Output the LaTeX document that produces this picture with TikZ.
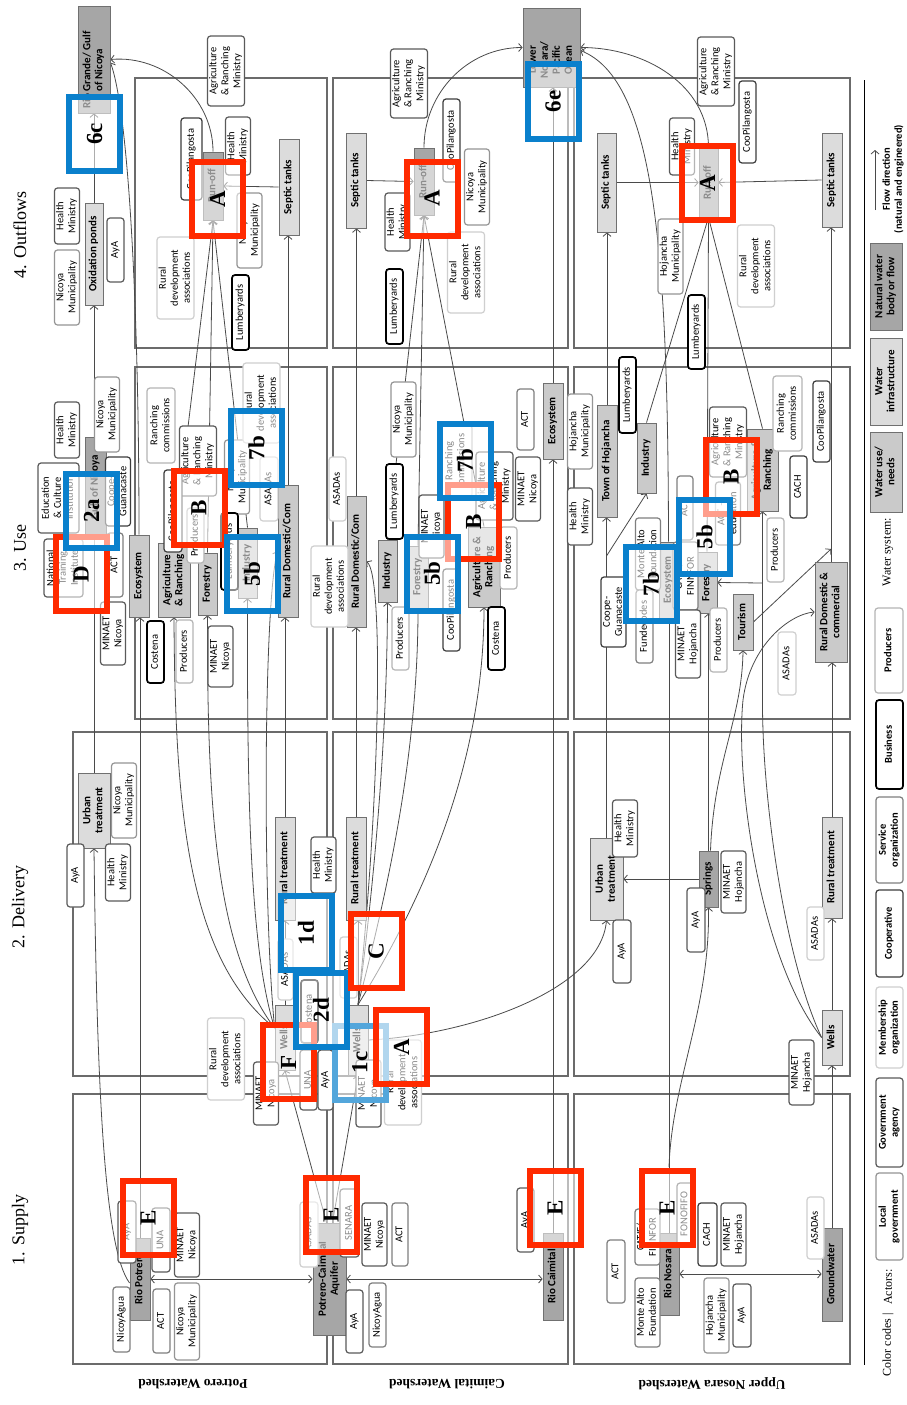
\documentclass[tikz,border=0pt]{standalone}
\usepackage{fontspec}
\setmainfont{Carlito}
\newfontfamily\tnr{Liberation Serif}
\usepackage{graphicx}
\usetikzlibrary{arrows.meta,calc}
\definecolor{natg}{HTML}{A6A6A6}
\definecolor{useg}{HTML}{CACACA}
\definecolor{infg}{HTML}{DCDCDC}
\definecolor{sysb}{HTML}{707070}
\definecolor{locc}{HTML}{959595}
\definecolor{govc}{HTML}{5A5A5A}
\definecolor{membc}{HTML}{CFCFCF}
\definecolor{coopc}{HTML}{3C3C3C}
\definecolor{servc}{HTML}{7F7F7F}
\definecolor{prodc}{HTML}{B5B5B5}
\definecolor{panc}{HTML}{6B6B6B}
\definecolor{flowc}{HTML}{4A4A4A}
\definecolor{hred}{HTML}{FF2A00}
\definecolor{hblue}{HTML}{0A80CC}
\newcommand\rt[1]{\rotatebox{90}{\begin{tabular}{@{}c@{}}#1\end{tabular}}}
\newcommand\lgf{\fontsize{10.5}{12}\selectfont\bfseries}
\pgfdeclarelayer{bg}
\pgfsetlayers{bg,main}
\tikzset{
 sz/.style args={#1/#2}{minimum width=#1pt,minimum height=#2pt},
 sys/.style={draw=sysb, line width=0.8pt, inner sep=0.5pt, font=\fontsize{11}{12}\selectfont\bfseries},
 nat/.style={sys, fill=natg},
 infra/.style={sys, fill=infg},
 wuse/.style={sys, fill=useg},
 systext/.style={inner sep=0pt, font=\fontsize{11}{12}\selectfont\bfseries},
 act/.style={rounded corners=3pt, fill=white, line width=1.2pt, inner sep=0.5pt, font=\fontsize{10.5}{12}\selectfont},
 loc/.style={act, draw=locc},
 gov/.style={act, draw=govc},
 memb/.style={act, draw=membc},
 coop/.style={act, draw=coopc},
 serv/.style={act, draw=servc},
 bus/.style={act, draw=black, line width=1.7pt},
 prod/.style={act, draw=prodc},
 panel/.style={draw=panc, line width=1.5pt},
 flow/.style={draw=flowc, line width=0.8pt, -{Straight Barb[length=3.5pt,width=8pt]}},
 flowboth/.style={draw=flowc, line width=0.8pt, {Straight Barb[length=3.5pt,width=8pt]}-{Straight Barb[length=3.5pt,width=8pt]}},
 hl/.style={line width=6pt, fill=white, fill opacity=0.55, draw opacity=1, text opacity=1, minimum width=51pt, minimum height=74pt, inner sep=0pt, font=\tnr\fontsize{23}{25}\selectfont\bfseries},
 hlr/.style={hl, draw=hred},
 hlb/.style={hl, draw=hblue},
 stage/.style={rotate=90, font=\tnr\fontsize{18}{20}\selectfont},
 wshed/.style={rotate=180, font=\tnr\fontsize{13.5}{15}\selectfont\bfseries},
}
\begin{document}
\begin{tikzpicture}[x=1pt,y=1pt]
\useasboundingbox (0,0) rectangle (907,-1405);

% ---------- water system boxes ----------
\node[nat,sz=32/107] (RioG) at (94,-59.5) {};
\node[systext] (RioGt) at (94,-70) {\rt{Rio Grande/ Gulf\\of Nicoya}};
\node[infra,sz=18/102] (OxP) at (94,-254) {\rt{Oxidation ponds}};
\node[nat,sz=20/68] (RunP) at (213,-186) {\rt{Run-off}};
\node[infra,sz=20/96] (SepP) at (289,-187) {\rt{Septic tanks}};
\node[nat,sz=57/79] (LowN) at (551.5,-47.5) {};
\node[systext] (LowNt) at (551.5,-60) {\rt{Lower\\Nosara/\\Pacific\\Ocean}};
\node[nat,sz=20/67] (RunC) at (424,-181.5) {\rt{Run-off}};
\node[infra,sz=20/95] (SepC) at (356,-180.5) {\rt{Septic tanks}};
\node[nat,sz=19/69] (RunN) at (708.5,-182.5) {\rt{Run-off}};
\node[infra,sz=19/99] (SepNL) at (606.5,-182.5) {\rt{Septic tanks}};
\node[infra,sz=20/94] (SepNR) at (832,-180) {\rt{Septic tanks}};
\node[nat,sz=21/100] (GulfN) at (95.5,-487) {\rt{Gulf of Nicoya}};
\node[wuse,sz=20/82] (EcoP) at (139,-576) {\rt{Ecosystem}};
\node[wuse,sz=32/74] (AgriP) at (174,-580) {\rt{Agriculture\\\& Ranching}};
\node[wuse,sz=19/62] (ForP) at (207.5,-584) {\rt{Forestry}};
\node[wuse,sz=19/70] (IndP) at (247.5,-563) {\rt{Industry}};
\node[wuse,sz=20/132] (RDomP) at (288,-551) {\rt{Rural Domestic/Com}};
\node[wuse,sz=19/131] (RDomC) at (356.5,-561.5) {\rt{Rural Domestic/Com}};
\node[wuse,sz=19/62] (IndC) at (387.5,-571) {\rt{Industry}};
\node[wuse,sz=20/62] (ForC) at (418,-577) {\rt{Forestry}};
\node[wuse,sz=32/80] (AgriC) at (484,-567) {\rt{Agriculture \&\\Ranching}};
\node[wuse,sz=20/76] (EcoC) at (553,-421) {\rt{Ecosystem}};
\node[wuse,sz=20/112] (TownH) at (607,-461) {\rt{Town of Hojancha}};
\node[wuse,sz=19/70] (IndN) at (646.5,-458) {\rt{Industry}};
\node[wuse,sz=19/76] (EcoN) at (668.5,-580) {\rt{Ecosystem}};
\node[wuse,sz=20/61] (ForN) at (707,-582.5) {\rt{Forestry}};
\node[wuse,sz=31/82] (RanchN) at (762.5,-470) {\rt{Agriculture \&\\Ranching}};
\node[wuse,sz=20/56] (TourN) at (743,-622) {\rt{Tourism}};
\node[wuse,sz=32/100] (RDomN) at (831,-612) {\rt{Rural Domestic \&\\commercial}};
\node[infra,sz=32/75] (UrbP) at (94,-810.5) {\rt{Urban\\treatment}};
\node[infra,sz=20/103] (RTrP) at (285,-868.5) {\rt{Rural treatment}};
\node[infra,sz=20/65] (WellsP) at (285,-1037.5) {\rt{Wells}};
\node[infra,sz=20/103] (RTrC) at (356,-868.5) {\rt{Rural treatment}};
\node[infra,sz=20/70] (WellsC) at (358,-1040) {\rt{Wells}};
\node[infra,sz=33/82] (UrbN) at (606.5,-879) {\rt{Urban\\treatment}};
\node[nat,sz=19/56] (Springs) at (708.5,-879) {\rt{Springs}};
\node[infra,sz=20/101] (RTrN) at (832,-867.5) {\rt{Rural treatment}};
\node[infra,sz=20/55] (WellsN) at (832,-1037.5) {\rt{Wells}};
\node[nat,sz=20/82] (RioP) at (140,-1279) {\rt{Rio Potrero}};
\node[nat,sz=33/112] (AqPC) at (329.5,-1279) {\rt{Potrero-Caimital\\Aquifer}};
\node[nat,sz=20/87] (RioC) at (553,-1276.5) {\rt{Rio Caimital}};
\node[nat,sz=20/82] (RioN) at (669,-1274) {\rt{Rio Nosara}};
\node[nat,sz=20/93] (GW) at (832,-1274.5) {\rt{Groundwater}};

% ---------- actors: outflows ----------
\node[gov,sz=34/70] (a1) at (226,-71) {\rt{Agriculture\\\& Ranching\\Ministry}};
\node[gov,sz=24/56] (a2) at (67,-216) {\rt{Health\\Ministry}};
\node[loc,sz=24/75] (a3) at (67,-287.5) {\rt{Nicoya\\Municipality}};
\node[gov,sz=17/64] (a4) at (115.5,-250) {\rt{AyA}};
\node[coop,sz=21/82] (a5) at (191.5,-159) {\rt{CooPilangosta}};
\node[gov,sz=22/58] (a6) at (238,-146) {\rt{Health\\Ministry}};
\node[loc,sz=23/75] (a7) at (249.5,-230.5) {\rt{Nicoya\\Municipality}};
\node[memb,sz=35/82] (a8) at (175.5,-278) {\rt{Rural\\development\\associations}};
\node[bus,sz=17/75] (a9) at (240.5,-312.5) {\rt{Lumberyards}};
\node[gov,sz=34/69] (a10) at (409,-83.5) {\rt{Agriculture\\\& Ranching\\Ministry}};
\node[coop,sz=17/83] (a11) at (451.5,-140.5) {\rt{CooPilangosta}};
\node[loc,sz=22/76] (a12) at (477,-187) {\rt{Nicoya\\Municipality}};
\node[gov,sz=23/58] (a13) at (397.5,-222) {\rt{Health\\Ministry}};
\node[memb,sz=34/81] (a14) at (466,-272.5) {\rt{Rural\\development\\associations}};
\node[bus,sz=17/75] (a15) at (394.5,-306.5) {\rt{Lumberyards}};
\node[gov,sz=34/69] (a16) at (716,-71.5) {\rt{Agriculture\\\& Ranching\\Ministry}};
\node[coop,sz=17/82] (a17) at (747.5,-122) {\rt{CooPilangosta}};
\node[gov,sz=22/57] (a18) at (682,-146.5) {\rt{Health\\Ministry}};
\node[loc,sz=23/75] (a19) at (670.5,-256.5) {\rt{Hojancha\\Municipality}};
\node[memb,sz=34/82] (a20) at (756,-266) {\rt{Rural\\development\\associations}};
\node[bus,sz=17/74] (a21) at (696.5,-332) {\rt{Lumberyards}};

% ---------- actors: use ----------
\node[gov,sz=22/56] (u1) at (67,-430) {\rt{Health\\Ministry}};
\node[loc,sz=22/75] (u2) at (107,-414.5) {\rt{Nicoya\\Municipality}};
\node[coop,sz=22/69] (u3) at (118,-491.5) {\rt{Coope-\\Guanacaste}};
\node[gov,sz=41/70] (u4) at (58.5,-498) {\rt{Education\\\& Culture\\Institution}};
\node[gov,sz=39/58] (u5) at (63.5,-568) {\rt{National\\Training\\Institute}};
\node[serv,sz=16/64] (u6) at (115,-565) {\rt{ACT}};
\node[gov,sz=22/63] (u7) at (113,-633.5) {\rt{MINAET\\Nicoya}};
\node[prod,sz=28/75] (u8) at (161,-425.5) {\rt{Ranching\\commissions}};
\node[gov,sz=34/70] (u9) at (198,-461) {\rt{Agriculture\\\& Ranching\\Ministry}};
\node[coop,sz=18/82] (u10) at (173,-511) {\rt{CooPilangosta}};
\node[prod,sz=17/55] (u11) at (195.5,-535.5) {\rt{Producers}};
\node[bus,sz=17/62] (u12) at (155.5,-652) {\rt{Costena}};
\node[prod,sz=17/63] (u13) at (184.5,-651.5) {\rt{Producers}};
\node[gov,sz=23/61] (u14) at (220.5,-656.5) {\rt{MINAET\\Nicoya}};
\node[loc,sz=24/74] (u15) at (237,-477) {\rt{Nicoya\\Municipality}};
\node[memb,sz=33/80] (u16) at (261.5,-403) {\rt{Rural\\development\\associations}};
\node[memb,sz=18/64] (u17) at (269,-489) {\rt{ASADAs}};
\node[bus,sz=17/77] (u18) at (229.5,-551.5) {\rt{Lumberyards}};
\node[memb,sz=17/64] (u19) at (337.5,-489) {\rt{ASADAs}};
\node[memb,sz=33/81] (u20) at (329.5,-586.5) {\rt{Rural\\development\\associations}};
\node[loc,sz=23/75] (u21) at (403.5,-419.5) {\rt{Nicoya\\Municipality}};
\node[bus,sz=17/75] (u22) at (394.5,-501.5) {\rt{Lumberyards}};
\node[prod,sz=17/63] (u23) at (400.5,-638.5) {\rt{Producers}};
\node[gov,sz=23/63] (u24) at (431.5,-526.5) {\rt{MINAET\\Nicoya}};
\node[coop,sz=17/82] (u25) at (451.5,-610) {\rt{CooPilangosta}};
\node[prod,sz=32/72] (u26) at (456,-461) {\rt{Ranching\\commissions}};
\node[gov,sz=33/68] (u27) at (494.5,-486) {\rt{Agriculture\\\& Ranching\\Ministry}};
\node[prod,sz=17/62] (u28) at (508.5,-558) {\rt{Producers}};
\node[bus,sz=17/63] (u29) at (496.5,-638.5) {\rt{Costena}};
\node[serv,sz=17/61] (u30) at (525.5,-419.5) {\rt{ACT}};
\node[gov,sz=22/64] (u31) at (528,-489) {\rt{MINAET\\Nicoya}};
\node[loc,sz=22/75] (u32) at (580,-431.5) {\rt{Hojancha\\Municipality}};
\node[gov,sz=22/57] (u33) at (580,-516.5) {\rt{Health\\Ministry}};
\node[coop,sz=21/70] (u34) at (613.5,-612) {\rt{Coope-\\Guanacaste}};
\node[bus,sz=17/76] (u35) at (627.5,-395) {\rt{Lumberyards}};
\node[serv,sz=22/72] (u36) at (648,-554) {\rt{Monte Alto\\Foundation}};
\node[serv,sz=17/73] (u37) at (644.5,-626.5) {\rt{Fundecodes}};
\node[serv,sz=16/64] (u38) at (685,-508) {\rt{ACT}};
\node[serv,sz=23/68] (u39) at (685.5,-576) {\rt{CATIE/\\FINNFOR}};
\node[gov,sz=22/68] (u40) at (688,-644) {\rt{MINAET\\Hojancha}};
\node[prod,sz=17/64] (u41) at (718.5,-640) {\rt{Producers}};
\node[serv,sz=22/63] (u42) at (728,-513.5) {\rt{ACT --\\education}};
\node[gov,sz=34/70] (u43) at (728,-442) {\rt{Agriculture\\\& Ranching\\Ministry}};
\node[prod,sz=17/64] (u44) at (775.5,-550) {\rt{Producers}};
\node[coop,sz=17/62] (u45) at (798.5,-487) {\rt{CACH}};
\node[prod,sz=29/75] (u46) at (787.5,-413.5) {\rt{Ranching\\commissions}};
\node[coop,sz=17/81] (u47) at (821.5,-421.5) {\rt{CooPilangosta}};
\node[memb,sz=18/63] (u48) at (787,-663.5) {\rt{ASADAs}};

% ---------- actors: delivery ----------
\node[gov,sz=17/63] (d1) at (75.5,-875.5) {\rt{AyA}};
\node[loc,sz=22/75] (d2) at (124,-800.5) {\rt{Nicoya\\Municipality}};
\node[gov,sz=22/57] (d3) at (118,-872.5) {\rt{Health\\Ministry}};
\node[gov,sz=21/56] (d4) at (323.5,-865) {\rt{Health\\Ministry}};
\node[memb,sz=15/61] (d5) at (285.5,-969.5) {\rt{ASADAs}};
\node[bus,sz=17/63] (d6) at (309.5,-1011.5) {\rt{Costena}};
\node[gov,sz=17/60] (d7) at (308.5,-1080) {\rt{UNA}};
\node[gov,sz=15/60] (d8) at (325.5,-1080) {\rt{AyA}};
\node[gov,sz=22/63] (d9) at (266,-1093.5) {\rt{MINAET\\Nicoya}};
\node[memb,sz=34/82] (d10) at (226,-1059) {\rt{Rural\\development\\associations}};
\node[memb,sz=17/61] (d11) at (348.5,-967.5) {\rt{ASADAs}};
\node[memb,sz=34/85] (d12) at (403,-1082.5) {\rt{Rural\\development\\associations}};
\node[gov,sz=23/67] (d13) at (368.5,-1093.5) {\rt{MINAET\\Nicoya}};
\node[gov,sz=24/57] (d14) at (625,-828.5) {\rt{Health\\Ministry}};
\node[gov,sz=18/63] (d15) at (622,-951.5) {\rt{AyA}};
\node[gov,sz=18/64] (d16) at (696,-920) {\rt{AyA}};
\node[gov,sz=23/62] (d17) at (733.5,-882) {\rt{MINAET\\Hojancha}};
\node[memb,sz=17/53] (d18) at (815.5,-933.5) {\rt{ASADAs}};
\node[gov,sz=23/65] (d19) at (801.5,-1072.5) {\rt{MINAET\\Hojancha}};

% ---------- actors: supply ----------
\node[gov,sz=18/62] (s1) at (127,-1232) {\rt{AyA}};
\node[gov,sz=18/64] (s2) at (161,-1240) {\rt{UNA}};
\node[gov,sz=22/64] (s3) at (187,-1245) {\rt{MINAET\\Nicoya}};
\node[serv,sz=17/65] (s4) at (121.5,-1319.5) {\rt{NicoyAgua}};
\node[serv,sz=17/64] (s5) at (161.5,-1321) {\rt{ACT}};
\node[loc,sz=22/77] (s6) at (187,-1321.5) {\rt{Nicoya\\Municipality}};
\node[memb,sz=18/65] (s7) at (309,-1234.5) {\rt{ASADAs}};
\node[gov,sz=19/68] (s8) at (349.5,-1223) {\rt{SENARA}};
\node[gov,sz=23/63] (s9) at (374.5,-1234.5) {\rt{MINAET\\Nicoya}};
\node[serv,sz=16/63] (s10) at (400,-1234.5) {\rt{ACT}};
\node[gov,sz=17/63] (s11) at (354.5,-1321.5) {\rt{AyA}};
\node[serv,sz=17/64] (s12) at (377.5,-1315) {\rt{NicoyAgua}};
\node[gov,sz=17/64] (s13) at (525.5,-1220) {\rt{AyA}};
\node[serv,sz=18/63] (s14) at (616,-1271.5) {\rt{ACT}};
\node[serv,sz=23/69] (s15) at (647.5,-1312.5) {\rt{Monte Alto\\Foundation}};
\node[serv,sz=23/56] (s16) at (647.5,-1237) {\rt{CATIE/\\FINNFOR}};
\node[gov,sz=16/62] (s17) at (685,-1214) {\rt{FONOFIFO}};
\node[coop,sz=19/63] (s18) at (707.5,-1234.5) {\rt{CACH}};
\node[gov,sz=23/63] (s19) at (733.5,-1234.5) {\rt{MINAET\\Hojancha}};
\node[loc,sz=23/75] (s20) at (716.5,-1315.5) {\rt{Hojancha\\Municipality}};
\node[gov,sz=18/63] (s21) at (742,-1315.5) {\rt{AyA}};
\node[memb,sz=17/62] (s22) at (815.5,-1228) {\rt{ASADAs}};

% ---------- labels ----------
\node[stage] (st4) at (20,-235) {4. Outflows};
\node[stage] (st3) at (20,-548) {3. Use};
\node[stage] (st2) at (20,-907) {2. Delivery};
\node[stage] (st1) at (20,-1230) {1. Supply};
\node[wshed] (wsP) at (193,-1384) {Potrero Watershed};
\node[wshed] (wsC) at (447,-1384) {Caimital Watershed};
\node[wshed] (wsN) at (712,-1384) {Upper Nosara Watershed};

% ---------- legend ----------
\node[nat,sz=32/87] (Lnat) at (886,-286.5) {\rt{Natural water\\body or flow}};
\node[infra,sz=32/87] (Linf) at (886,-381.5) {\rt{Water\\infrastructure}};
\node[wuse,sz=32/80] (Luse) at (886,-472) {\rt{Water use/\\needs}};
\node[prod,sz=28/85,font=\lgf] (Lprod) at (889,-650.5) {\rt{Producers}};
\node[bus,sz=27/89,font=\lgf] (Lbus) at (889.5,-744.5) {\rt{Business}};
\node[serv,sz=27/86,font=\lgf] (Lserv) at (889.5,-840) {\rt{Service\\organization}};
\node[coop,sz=27/87,font=\lgf] (Lcoop) at (889.5,-933.5) {\rt{Cooperative}};
\node[memb,sz=27/81,font=\lgf] (Lmemb) at (889.5,-1027.5) {\rt{Membership\\organization}};
\node[gov,sz=27/89,font=\lgf] (Lgov) at (889.5,-1122.5) {\rt{Government\\agency}};
\node[loc,sz=27/87,font=\lgf] (Lloc) at (889.5,-1216.5) {\rt{Local\\government}};
\node[rotate=90,font=\tnr\fontsize{12}{14}\selectfont] (wsys) at (888,-552) {Water system:};
\node[rotate=90,font=\tnr\fontsize{12}{14}\selectfont] (ccode) at (888,-1345) {Color codes |};
\node[rotate=90,font=\tnr\fontsize{12}{14}\selectfont] (actl) at (888,-1287) {Actors:};
\node[rotate=90,align=center,font=\lgf] (fdir) at (893,-179) {Flow direction\\(natural and engineered)};
\coordinate (fa1) at (875,-210);
\coordinate (fa2) at (875,-150);
\coordinate (lg1) at (864,-80);
\coordinate (lg2) at (864,-1365);

% ---------- junction coordinates ----------
\coordinate (wP) at ([yshift=9.5pt]WellsP.west);
\coordinate (jT) at (831,-549);
\coordinate (jN) at (669,-1167);
\coordinate (jU) at (606.5,-556);
\coordinate (jR) at (762.5,-583);

\begin{pgfonlayer}{bg}
\fill[white] (0,0) rectangle (907,-1405);
\draw[panel] (135,-78) rectangle (327,-348);
\draw[panel] (333,-78) rectangle (568,-348);
\draw[panel] (574,-78) rectangle (850,-348);
\draw[panel] (135,-367) rectangle (327,-719);
\draw[panel] (333,-367) rectangle (568,-719);
\draw[panel] (574,-367) rectangle (850,-719);
\draw[panel] (73,-732) rectangle (327,-1076);
\draw[panel] (333,-732) rectangle (568,-1076);
\draw[panel] (574,-732) rectangle (850,-1076);
\draw[panel] (73,-1094) rectangle (327,-1364);
\draw[panel] (333,-1094) rectangle (568,-1364);
\draw[panel] (574,-1094) rectangle (850,-1364);
\draw[line width=1pt] (lg1) -- (lg2);
\draw[flow] (fa1) -- (fa2);
% outflows
\draw[flow] (OxP.north) -- (RioG.south);
\draw[flow] (RunP.north) to[out=90,in=5] (RioG.east);
\draw[flow] (EcoP.north) .. controls (139,-300) and (128,-110) .. ([yshift=-3pt]RioG.east);
\draw[flow] (SepP.west) -- (RunP.east);
\draw[flow] (RDomP.north) -- (RDomP.north |- SepP.south);
\draw[flow] (AgriP.north) -- (RunP.south);
\draw[flow] (ForP.north) -- (RunP.south);
\draw[flow] (IndP.north) -- (RunP.south);
\draw[flow] (RunC.north) to[out=90,in=180] (LowN.west);
\draw[flow] (EcoC.north) -- (EcoC.north |- LowN.south);
\draw[flow] (SepC.east) -- (RunC.west);
\draw[flow] (RDomC.north) -- (RDomC.north |- SepC.south);
\draw[flow] (IndC.north) -- (RunC.south);
\draw[flow] (ForC.north) -- (RunC.south);
\draw[flow] (AgriC.north) -- (RunC.south);
\draw[flow] (RunN.north) to[out=90,in=0] (LowN.east);
\draw[flow] (EcoN.north) .. controls (668,-250) and (655,-80) .. ([yshift=-3pt]LowN.east);
\draw[flow] (SepNL.east) -- (RunN.west);
\draw[flow] (SepNR.west) -- (RunN.east);
\draw[flow] (TownH.north) -- (TownH.north |- SepNL.south);
\draw[flow] (IndN.north) -- (RunN.south);
\draw[flow] (ForN.north) -- (RunN.south);
\draw[flow] (RanchN.north) -- (RunN.south);
\draw[flow] (RDomN.north) -- (RDomN.north |- SepNR.south);
\draw[flow] (TourN.east) -- (jT);
% supply and delivery to use
\draw[flow] (RioP.north) -- (RioP.north |- EcoP.south);
\draw[flow] ([yshift=-4pt]RioP.west) .. controls (105,-1250) and (97,-1100) .. (UrbP.south);
\draw[flow] (UrbP.north) -- (OxP.south);
\draw[flow] (wP) .. controls (190,-960) and (175,-820) .. (AgriP.south);
\draw[flow] (wP) .. controls (215,-950) and (207,-800) .. (ForP.south);
\draw[flow] (wP) .. controls (250,-950) and (247,-800) .. (IndP.south);
\draw[flow] (wP) .. controls (262,-900) and (264,-600) .. (RDomP.west);
\draw[flow] (WellsP.north) -- (RTrP.south);
\draw[flow] (RTrP.north) -- (RTrP.north |- RDomP.south);
\draw[flow] ([xshift=-3pt]AqPC.north) -- (WellsP.south);
\draw[flow] ([xshift=3pt]AqPC.north) -- (WellsC.south);
\draw[flowboth] (RioP.east) -- (AqPC.west);
\draw[flowboth] (AqPC.east) -- (AqPC.east -| RioC.west);
\draw[flowboth] (RioN.east) -- (RioN.east -| GW.west);
\draw[flow] (GW.north) -- (WellsN.south);
\draw[flow] (RioC.north) -- (EcoC.south);
\draw[flow] (RioN.north) -- (RioN.north |- EcoN.south);
\draw[flow] (jN) .. controls (672,-1080) and (710,-1010) .. (Springs.south);
\draw[flow] (Springs.west) -- (UrbN.east);
\draw[flow] (UrbN.north) -- (UrbN.north |- TownH.south);
\draw[flow] (jU) -- (IndN.south);
\draw[flow] (Springs.north) -- (Springs.north |- ForN.south);
\draw[flow] ([xshift=2pt]Springs.north) .. controls (714,-760) and (742,-720) .. (TourN.south);
\draw[flow] (WellsC.east) .. controls (470,-1035) and (600,-990) .. (UrbN.south);
\draw[flow] (WellsC.north) -- (WellsC.north |- RTrC.south);
\draw[flow] (RTrC.north) -- (RTrC.north |- RDomC.south);
\draw[flow] (WellsC.north) .. controls (372,-900) and (387,-750) .. (IndC.south);
\draw[flow] (WellsC.north) .. controls (385,-900) and (418,-760) .. (ForC.south);
\draw[flow] (WellsC.north) .. controls (410,-920) and (484,-780) .. (AgriC.south);
\draw[flow] (WellsC.north) .. controls (380,-800) and (384,-575) .. (RDomC.east);
\draw[flow] (WellsN.north) -- (RTrN.south);
\draw[flow] (RTrN.north) -- (RTrN.north |- RDomN.south);
\draw[flow] (WellsN.west) .. controls (760,-960) and (735,-780) .. (743,-700) .. controls (750,-645) and (790,-614) .. (RDomN.west);
\draw[flow] (WellsN.west) .. controls (785,-960) and (762,-800) .. (762.5,-700) -- (RanchN.south);
\draw[flow] (jR) -- (ForN.east);
\end{pgfonlayer}

% ---------- highlight squares ----------
\node[hlb] (q6c) at (94.5,-134) {\rotatebox{90}{6c}};
\node[hlb] (q6e) at (553,-101.5) {\rotatebox{90}{6e}};
\node[hlr] (qA1) at (217.5,-199) {\rotatebox{90}{A}};
\node[hlr] (qA2) at (432,-198.5) {\rotatebox{90}{A}};
\node[hlr] (qA3) at (707.5,-183) {\rotatebox{90}{A}};
\node[hlr] (qD) at (81,-574) {\rotatebox{90}{D}};
\node[hlb] (q2a) at (91.5,-510.5) {\rotatebox{90}{2a}};
\node[hlr] (qB1) at (199,-508) {\rotatebox{90}{B}};
\node[hlb] (q7b1) at (256.5,-448) {\rotatebox{90}{7b}};
\node[hlb] (q5b1) at (252,-574) {\rotatebox{90}{5b}};
\node[hlr] (qB2) at (473.5,-522) {\rotatebox{90}{B}};
\node[hlb] (q7b2) at (465,-460.5) {\rotatebox{90}{7b}};
\node[hlb] (q5b2) at (432,-573.5) {\rotatebox{90}{5b}};
\node[hlr] (qB3) at (731,-477) {\rotatebox{90}{B}};
\node[hlb] (q5b3) at (704.5,-537) {\rotatebox{90}{5b}};
\node[hlb] (q7b3) at (651,-584) {\rotatebox{90}{7b}};
\node[hlr] (qF) at (288.5,-1062) {\rotatebox{90}{F}};
\node[hl,draw=hblue!70] (q1c) at (360,-1062.5) {\rotatebox{90}{1c}};
\node[hlb] (q2d) at (321,-1010) {\rotatebox{90}{2d}};
\node[hlb] (q1d) at (306,-933) {\rotatebox{90}{1d}};
\node[hlr] (qC) at (376,-951) {\rotatebox{90}{C}};
\node[hlr] (qA4) at (401.5,-1047) {\rotatebox{90}{A}};
\node[hlr] (qE1) at (148,-1218) {\rotatebox{90}{E}};
\node[hlr] (qE2) at (331,-1215) {\rotatebox{90}{E}};
\node[hlr] (qE3) at (555,-1208) {\rotatebox{90}{E}};
\node[hlr] (qE4) at (667,-1208) {\rotatebox{90}{E}};
\end{tikzpicture}
\end{document}
